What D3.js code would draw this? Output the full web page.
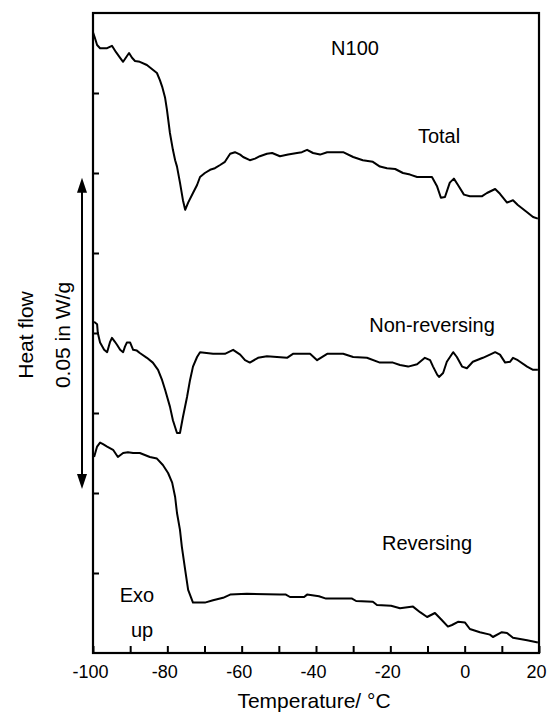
<!DOCTYPE html>
<html>
<head>
<meta charset="utf-8">
<script src="https://cdn.jsdelivr.net/npm/d3@7"></script>
<style>
  body { margin: 0; background: #fff; }
  svg text { font-family: "Liberation Sans", Arial, Helvetica, sans-serif; fill: #000; }
</style>
</head>
<body>
<svg width="547" height="716"></svg>
<script>

//x axis ticks and labels (temperature in C)
const xTicks = [-100, -90, -80, -70, -60, -50, -40, -30, -20, -10, 0, 10, 20];
const xLabels = [-100, -80, -60, -40, -20, 0, 20];
//y axis ticks (heat flow, arbitrary divisions, no labels)
const yTicks = [1, 2, 3, 4, 5, 6, 7];

//Total heat flow
const totalT = [-100, -99.5, -98.9, -98.1, -96.2, -94.9, -93.8, -92.7, -91.9, -90.9, -90.3, -89.5, -88.7, -87.4, -85.5,
  -83.9, -82.8, -82.0, -81.4, -80.6, -80.1, -79.3, -78.5, -77.9, -77.4, -76.6, -75.8, -75.2, -74.4, -73.1, -72.0,
  -71.2, -69.9, -68.5, -67.2, -65.8, -64.5, -63.1, -61.8, -60.4, -59.6, -57.8, -56.4, -55.1, -53.2, -51.8, -49.7,
  -47.5, -45.1, -43.8, -42.4, -40.8, -38.9, -37.0, -32.7, -30.0, -27.4, -24.7, -22.8, -20.9, -18.7, -16.6, -14.7,
  -12.8, -8.8, -7.4, -6.4, -5.3, -4.0, -2.9, -1.8, -0.2, 1.4, 4.7, 6.0, 8.2, 9.5, 11.4, 13.0, 14.3, 16.8, 18.4, 19.7];
const totalHF = [7.76, 7.69, 7.60, 7.56, 7.56, 7.59, 7.51, 7.44, 7.39, 7.46, 7.50, 7.44, 7.40, 7.39, 7.35,
  7.29, 7.25, 7.16, 7.08, 6.94, 6.79, 6.50, 6.29, 6.16, 6.08, 5.88, 5.66, 5.54, 5.63, 5.75, 5.85,
  5.95, 6.00, 6.04, 6.06, 6.10, 6.14, 6.24, 6.26, 6.23, 6.20, 6.16, 6.18, 6.21, 6.24, 6.25, 6.21,
  6.23, 6.25, 6.26, 6.29, 6.25, 6.23, 6.26, 6.26, 6.20, 6.16, 6.14, 6.08, 6.06, 6.05, 6.00, 5.98,
  5.95, 5.95, 5.83, 5.69, 5.70, 5.88, 5.93, 5.85, 5.73, 5.71, 5.71, 5.75, 5.80, 5.74, 5.63, 5.66, 5.60, 5.51, 5.45, 5.43];

//Non-reversing heat flow
const nonRevT = [-99.7, -98.9, -98.7, -98.1, -97.0, -96.2, -95.4, -94.9, -94.1, -93.5, -92.7, -91.9, -91.4, -90.9, -90.0,
  -89.2, -88.2, -87.4, -85.5, -83.9, -82.5, -81.4, -80.6, -79.3, -78.5, -77.4, -76.6, -75.8, -74.7, -73.9, -73.1,
  -72.0, -71.2, -67.7, -64.5, -62.3, -60.4, -59.1, -57.8, -55.6, -53.2, -47.8, -46.2, -41.6, -39.7, -37.0, -32.7,
  -30.0, -26.3, -22.8, -19.3, -17.4, -15.2, -12.8, -10.7, -9.3, -8.5, -7.4, -6.9, -5.8, -4.8, -3.1, -2.1,
  -0.7, 0.6, 2.2, 4.9, 6.8, 8.2, 9.5, 10.9, 12.2, 13.0, 14.3, 16.8, 18.4, 19.7];
const nonRevHF = [4.14, 4.11, 4.00, 3.88, 3.79, 3.76, 3.89, 3.94, 3.89, 3.85, 3.79, 3.76, 3.83, 3.88, 3.88,
  3.79, 3.78, 3.75, 3.69, 3.63, 3.54, 3.41, 3.29, 3.08, 2.91, 2.75, 2.75, 2.95, 3.20, 3.41, 3.58,
  3.70, 3.76, 3.74, 3.74, 3.79, 3.73, 3.66, 3.63, 3.69, 3.71, 3.69, 3.74, 3.74, 3.66, 3.74, 3.74,
  3.70, 3.69, 3.63, 3.63, 3.60, 3.58, 3.61, 3.69, 3.66, 3.58, 3.48, 3.45, 3.50, 3.64, 3.76, 3.70,
  3.58, 3.56, 3.64, 3.69, 3.73, 3.76, 3.73, 3.63, 3.64, 3.69, 3.66, 3.58, 3.54, 3.54];

//Reversing heat flow
const revT = [-99.7, -98.9, -98.1, -97.3, -96.2, -94.6, -93.3, -91.9, -90.6, -89.2, -87.4, -84.7, -82.8, -81.2, -79.8,
  -78.7, -77.9, -77.4, -76.6, -76.1, -75.2, -74.4, -73.1, -69.9, -67.7, -65.0, -63.1, -58.6, -49.7, -48.1, -47.0,
  -43.2, -42.4, -39.2, -37.3, -30.3, -29.2, -24.7, -23.6, -19.8, -17.4, -13.9, -12.0, -10.1, -8.0, -6.1, -4.5,
  -3.4, -1.8, 0.1, 1.4, 4.1, 6.8, 7.6, 10.0, 11.4, 13.0, 16.8, 19.7];
const revHF = [2.45, 2.58, 2.63, 2.61, 2.58, 2.54, 2.45, 2.50, 2.51, 2.50, 2.50, 2.45, 2.43, 2.35, 2.25,
  2.13, 1.95, 1.75, 1.54, 1.33, 1.04, 0.79, 0.63, 0.63, 0.66, 0.69, 0.73, 0.74, 0.73, 0.73, 0.70,
  0.70, 0.73, 0.71, 0.68, 0.68, 0.65, 0.64, 0.60, 0.59, 0.56, 0.58, 0.51, 0.45, 0.50, 0.41, 0.33,
  0.35, 0.39, 0.38, 0.30, 0.26, 0.23, 0.20, 0.26, 0.25, 0.19, 0.16, 0.13];

//scale bar: 0.05 W/g expressed in divisions
const arrowSpan = [2.05, 5.94];

const series = [
  { name: "Total", t: totalT, hf: totalHF },
  { name: "Non-reversing", t: nonRevT, hf: nonRevHF },
  { name: "Reversing", t: revT, hf: revHF }
];

const svg = d3.select("svg");
const margin = { top: 13, right: 8, bottom: 63, left: 93 };
const width = svg.attr("width") - margin.left - margin.right;
const height = svg.attr("height") - margin.top - margin.bottom;

const xScale = d3.scaleLinear().domain([-100, 20]).range([0, width]);
const yScale = d3.scaleLinear().domain([0, 8]).range([height, 0]);

const g = svg.append("g").attr("transform", "translate(" + margin.left + "," + margin.top + ")");
const font = '"Liberation Sans", Arial, Helvetica, sans-serif';

//x axis, ticks inside
const xAxis = g.append("g")
  .attr("transform", "translate(0," + height + ")")
  .call(d3.axisBottom(xScale)
    .tickValues(xTicks)
    .tickSizeInner(-7)
    .tickSizeOuter(0)
    .tickPadding(12)
    .tickFormat(d => xLabels.includes(d) ? String(d) : ""));
xAxis.attr("font-size", 18).attr("font-family", font);
xAxis.selectAll("line").attr("stroke-width", 2);
xAxis.select(".domain").remove();
//nudge labels a little left like the original (keeps "20" inside the page)
xAxis.selectAll("text").attr("dx", d => d < 0 ? -3 : (d === 20 ? -3 : 0));

//y axis, only tick marks
const yAxis = g.append("g")
  .call(d3.axisLeft(yScale)
    .tickValues(yTicks)
    .tickSizeInner(-6)
    .tickSizeOuter(0)
    .tickFormat(""));
yAxis.selectAll("line").attr("stroke-width", 2);
yAxis.select(".domain").remove();

//frame
g.append("rect")
  .attr("x", 0)
  .attr("y", 0)
  .attr("width", width)
  .attr("height", height)
  .attr("fill", "none")
  .attr("stroke", "#000")
  .attr("stroke-width", 2.2);

//curves
const line = d3.line()
  .x(d => xScale(d[0]))
  .y(d => yScale(d[1]));

g.selectAll(".curve")
  .data(series)
  .enter()
  .append("path")
  .attr("class", "curve")
  .attr("d", s => line(s.t.map((t, i) => [t, s.hf[i]])))
  .attr("fill", "none")
  .attr("stroke", "#000")
  .attr("stroke-width", 2)
  .attr("stroke-linejoin", "round");

//curve labels
const labels = [
  { text: "N100", x: 355, y: 55 },
  { text: "Total", x: 439, y: 143 },
  { text: "Non-reversing", x: 432, y: 332 },
  { text: "Reversing", x: 427, y: 550 },
  { text: "Exo", x: 137, y: 602 },
  { text: "up", x: 142, y: 637 }
];
svg.selectAll(".lbl")
  .data(labels)
  .enter()
  .append("text")
  .attr("class", "lbl")
  .attr("x", d => d.x)
  .attr("y", d => d.y)
  .attr("text-anchor", "middle")
  .style("font-size", "20px")
  .text(d => d.text);

//x axis title
svg.append("text")
  .attr("x", margin.left + width / 2 - 2)
  .attr("y", 708)
  .attr("text-anchor", "middle")
  .style("font-size", "21px")
  .text("Temperature/ °C");

//y axis titles
svg.append("text")
  .attr("transform", "translate(33,335)rotate(-90)")
  .attr("text-anchor", "middle")
  .style("font-size", "21px")
  .text("Heat flow");

svg.append("text")
  .attr("transform", "translate(70,335)rotate(-90)")
  .attr("text-anchor", "middle")
  .style("font-size", "21px")
  .text("0.05 in W/g");

//double arrow for the scale bar
const ax = 82;
const yTop = margin.top + yScale(arrowSpan[1]);
const yBot = margin.top + yScale(arrowSpan[0]);
svg.append("line")
  .attr("x1", ax).attr("x2", ax)
  .attr("y1", yTop + 10).attr("y2", yBot - 10)
  .attr("stroke", "#000")
  .attr("stroke-width", 2);
svg.append("path")
  .attr("d", "M" + ax + "," + yTop + "L" + (ax - 5) + "," + (yTop + 15) + "L" + (ax + 5) + "," + (yTop + 15) + "Z")
  .attr("fill", "#000");
svg.append("path")
  .attr("d", "M" + ax + "," + yBot + "L" + (ax - 5) + "," + (yBot - 15) + "L" + (ax + 5) + "," + (yBot - 15) + "Z")
  .attr("fill", "#000");

</script>
</body>
</html>
